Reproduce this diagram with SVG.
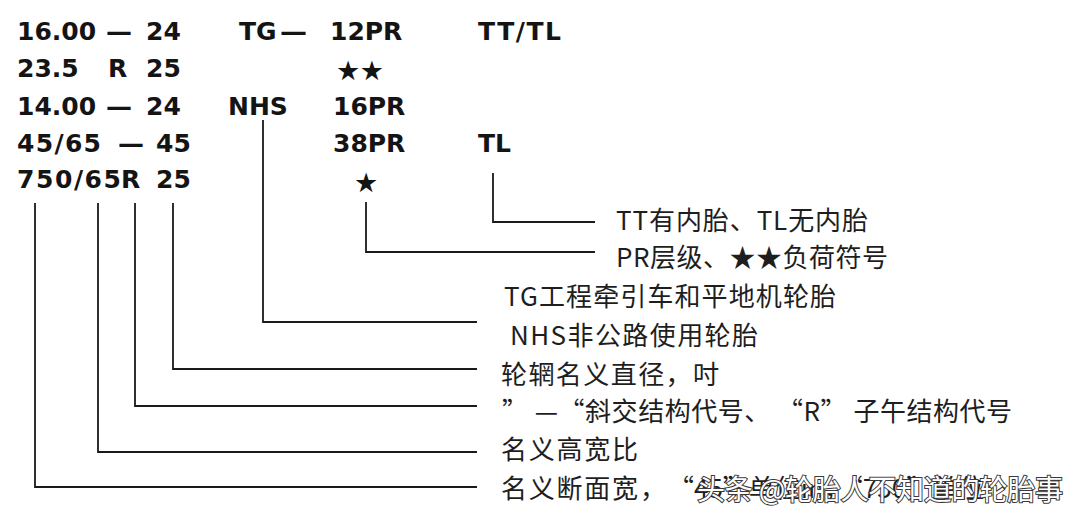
<svg xmlns="http://www.w3.org/2000/svg" width="1080" height="523" viewBox="0 0 1080 523">
<style>
.c{font-family:"DejaVu Sans",sans-serif;font-weight:700;font-size:25px;fill:#141414}
.s{font-family:"DejaVu Sans",sans-serif;font-size:27px;fill:#141414}
.l{font-family:"Noto Sans CJK SC","Noto Sans",sans-serif;font-size:26px;fill:#1e1e1e}
.w{font-family:"Noto Sans CJK SC",sans-serif;font-size:28px;fill:#fff;stroke:#3a3a3a;stroke-width:2;paint-order:stroke}
.k{fill:none;stroke:#1a1a1a;stroke-width:1.8}
</style>
<rect width="1080" height="523" fill="#fff"/>
<g id="codes">
<g id="row1">
<text class="c" x="17" y="40">16.00</text>
<text class="c" x="106" y="40" textLength="26" lengthAdjust="spacingAndGlyphs">—</text>
<text class="c" x="146" y="40">24</text>
<text class="c" x="239" y="40">TG</text>
<text class="c" x="280" y="40" textLength="27" lengthAdjust="spacingAndGlyphs">—</text>
<text class="c" x="330" y="40">12PR</text>
<text class="c" x="478" y="40" textLength="83" lengthAdjust="spacing">TT/TL</text>
</g>
<g id="row2">
<text class="c" x="17" y="77">23.5</text>
<text class="c" x="108" y="77">R</text>
<text class="c" x="146" y="77">25</text>
<text class="s" x="336" y="80" textLength="48" lengthAdjust="spacing">★★</text>
</g>
<g id="row3">
<text class="c" x="17" y="115">14.00</text>
<text class="c" x="106" y="115" textLength="26" lengthAdjust="spacingAndGlyphs">—</text>
<text class="c" x="146" y="115">24</text>
<text class="c" x="228" y="115">NHS</text>
<text class="c" x="333" y="115">16PR</text>
</g>
<g id="row4">
<text class="c" x="17" y="152" textLength="84" lengthAdjust="spacing">45/65</text>
<text class="c" x="118" y="152" textLength="26" lengthAdjust="spacingAndGlyphs">—</text>
<text class="c" x="156" y="152">45</text>
<text class="c" x="333" y="152">38PR</text>
<text class="c" x="478" y="152">TL</text>
</g>
<g id="row5">
<text class="c" x="17" y="188" textLength="104" lengthAdjust="spacing">750/65</text>
<text class="c" x="121" y="188">R</text>
<text class="c" x="156" y="188">25</text>
<text class="s" x="354" y="192">★</text>
</g>
</g>
<g id="connectors">
<polyline class="k" points="493,173 493,222 595,222"/>
<polyline class="k" points="366,202 366,252 595,252"/>
<polyline class="k" points="263,120 263,322 477,322"/>
<polyline class="k" points="173,203 173,369 477,369"/>
<polyline class="k" points="135,203 135,406 477,406"/>
<polyline class="k" points="98,203 98,452 477,452"/>
<polyline class="k" points="35,203 35,487 477,487"/>
</g>
<g id="label-tt"><text class="l" x="616" y="230" textLength="252" lengthAdjust="spacing">TT有内胎、TL无内胎</text></g>
<g id="label-pr"><text class="l" x="616" y="267" textLength="272" lengthAdjust="spacing">PR层级、★★负荷符号</text></g>
<g id="label-tg"><text class="l" x="504" y="306" textLength="332" lengthAdjust="spacing">TG工程牵引车和平地机轮胎</text></g>
<g id="label-nhs"><text class="l" x="510" y="345" textLength="248" lengthAdjust="spacing">NHS非公路使用轮胎</text></g>
<g id="label-rim"><text class="l" x="501" y="384" textLength="218" lengthAdjust="spacing">轮辋名义直径，吋</text></g>
<g id="label-struct"><text class="l" x="502" y="421" textLength="510" lengthAdjust="spacing">” —“斜交结构代号、 “R” 子午结构代号</text></g>
<g id="label-ratio"><text class="l" x="501" y="459" textLength="137" lengthAdjust="spacing">名义高宽比</text></g>
<g id="label-width"><text class="l" x="501" y="498"><tspan textLength="137" lengthAdjust="spacing">名义断面宽</tspan><tspan x="640">，</tspan><tspan x="668">“45”单位in，“750”单位</tspan></text></g>
<g id="watermark"><text class="w" x="697" y="500" textLength="366" lengthAdjust="spacing">头条 @轮胎人不知道的轮胎事</text></g>
</svg>
